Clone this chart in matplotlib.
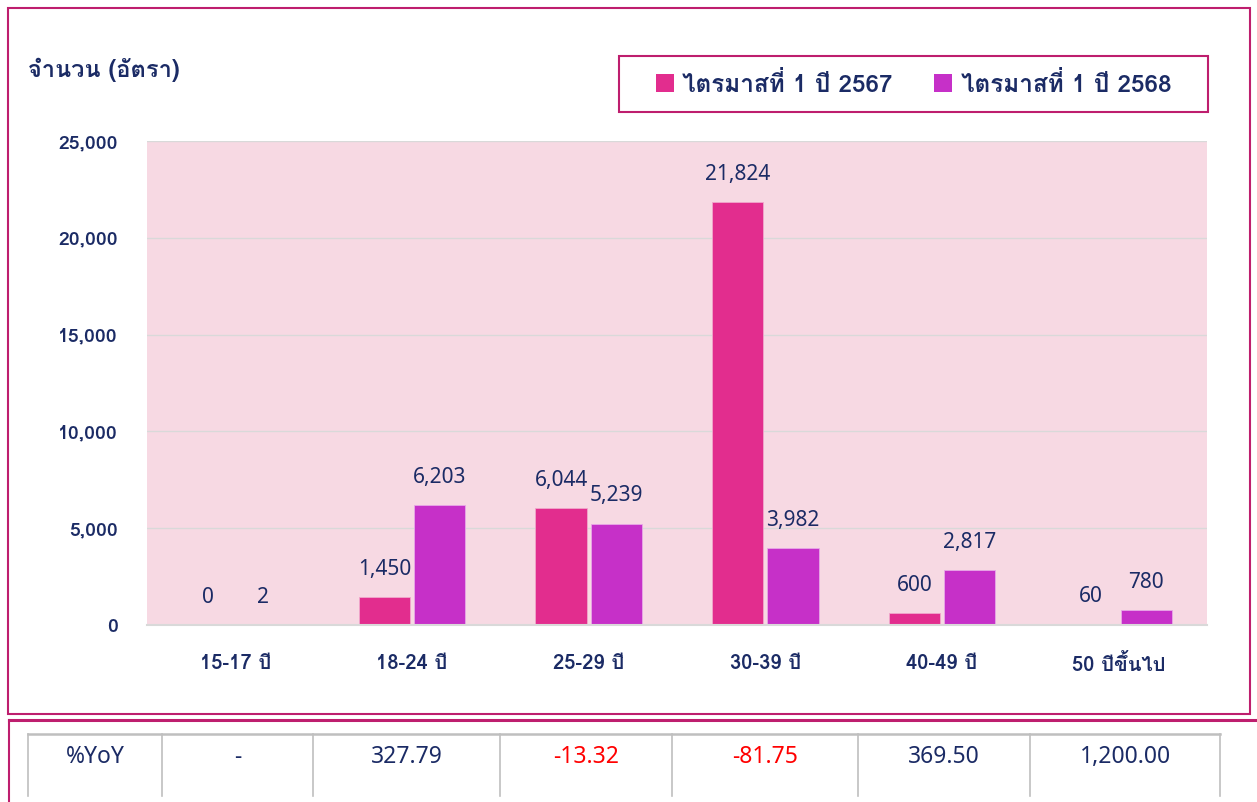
import matplotlib
matplotlib.use('Agg')
import matplotlib.pyplot as plt
import numpy as np
from matplotlib.patches import Rectangle, Patch
from matplotlib.lines import Line2D

# data
categories = ['15-17 ปี', '18-24 ปี', '25-29 ปี', '30-39 ปี', '40-49 ปี', '50 ปีขึ้นไป']
q1_2567 = [0, 1450, 6044, 21824, 600, 60]
q1_2568 = [2, 6203, 5239, 3982, 2817, 780]
series_names = ['ไตรมาสที่ 1 ปี 2567', 'ไตรมาสที่ 1 ปี 2568']
yoy_header = '%YoY'
yoy_values = ['-', '327.79', '-13.32', '-81.75', '369.50', '1,200.00']

# style
W, H = 1257, 802
navy = '#1B2B65'
pink = '#E22D8E'
purple = '#C630C8'
border = '#BE1E6E'
# regular text: latin from Noto Sans, thai from Loma (tone marks sit above upper vowels)
fonts = ['Noto Sans', 'Loma', 'DejaVu Sans']
# bold text: Loma only, so digits and thai share one weight
bold_fonts = ['Loma', 'DejaVu Sans']
plt.rcParams['font.family'] = fonts

fig = plt.figure(figsize=(W / 100, H / 100), dpi=100)

def fx(px):
    return px / W

def fy(py):
    return 1 - py / H

ax = fig.add_axes([fx(147), fy(625), fx(1207 - 147), (625 - 141) / H])
ax.set_facecolor('#F7D9E3')

x = np.arange(len(categories))
bw = 0.29
off = 0.156
b1 = ax.bar(x - off, q1_2567, bw, color=pink, edgecolor='#F0A8CC', linewidth=0.6, zorder=3)
b2 = ax.bar(x + off, q1_2568, bw, color=purple, edgecolor='#E8A8E8', linewidth=0.6, zorder=3)

for bars, vals in [(b1, q1_2567), (b2, q1_2568)]:
    for r, v in zip(bars, vals):
        ax.annotate(f'{v:,}', (r.get_x() + r.get_width() / 2, v), xytext=(0, 20),
                    textcoords='offset points', ha='center', va='center',
                    fontsize=15, color=navy)

ax.set_xlim(-0.5, len(categories) - 0.5)
ax.set_ylim(0, 25000)
ax.set_yticks(range(0, 25001, 5000))
ax.set_yticklabels([f'{v:,}' for v in range(0, 25001, 5000)])
ax.set_xticks(x)
ax.set_xticklabels(categories)
ax.tick_params(axis='y', length=0, pad=21, labelsize=14, labelcolor=navy)
ax.tick_params(axis='x', length=0, pad=21, labelsize=14.5, labelcolor=navy)
for lab in ax.get_xticklabels() + ax.get_yticklabels():
    lab.set_family(bold_fonts)
    lab.set_fontweight('bold')
ax.grid(axis='y', color='#D9D9D9', linewidth=1, zorder=1)
for s in ['top', 'left', 'right']:
    ax.spines[s].set_visible(False)
ax.spines['bottom'].set_color('#D9D9D9')
ax.spines['bottom'].set_linewidth(1.5)
ax.spines['bottom'].set_zorder(4)

# y title
fig.text(fx(28), fy(70), 'จำนวน (อัตรา)', fontsize=17, fontweight='bold', color=navy,
         family=bold_fonts, ha='left', va='center')

# legend box + legend
fig.patches.append(Rectangle((fx(619), fy(112)), fx(1208 - 619), (112 - 56) / H,
                             transform=fig.transFigure, fill=False, edgecolor=border, linewidth=1.5))
handles = [Patch(facecolor=pink), Patch(facecolor=purple)]
fig.legend(handles, series_names, loc='center', bbox_to_anchor=(fx(913.5), fy(84)),
           ncol=2, frameon=False, handlelength=0.75, handleheight=0.75,
           handletextpad=0.35, columnspacing=1.7, labelcolor=navy,
           prop={'family': bold_fonts, 'weight': 'bold', 'size': 17.5})

# outer borders
fig.patches.append(Rectangle((fx(8), fy(714)), fx(1250 - 8), (714 - 8) / H,
                             transform=fig.transFigure, fill=False, edgecolor=border, linewidth=1.5))
fig.lines.append(Line2D([fx(9), fx(1257)], [fy(720), fy(720)], transform=fig.transFigure,
                        color=border, linewidth=2.2))
fig.lines.append(Line2D([fx(9), fx(9)], [fy(720), 0], transform=fig.transFigure,
                        color=border, linewidth=1.5))

# YoY table
col_edges = [28, 162, 313, 500, 672, 858, 1030, 1220]
grey = '#BFBFBF'
fig.lines.append(Line2D([fx(col_edges[0]), fx(col_edges[-1])], [fy(734), fy(734)],
                        transform=fig.transFigure, color=grey, linewidth=1.8))
for e in col_edges:
    fig.lines.append(Line2D([fx(e), fx(e)], [fy(734), fy(796)], transform=fig.transFigure,
                            color=grey, linewidth=1.2))
cells = [yoy_header] + yoy_values
for i, t in enumerate(cells):
    cx = (col_edges[i] + col_edges[i + 1]) / 2
    c = 'red' if t.startswith('-') and len(t) > 1 else navy
    fig.text(fx(cx), fy(757), t, ha='center', va='center', fontsize=16.5, color=c)

fig.savefig('out.png', dpi=100)
